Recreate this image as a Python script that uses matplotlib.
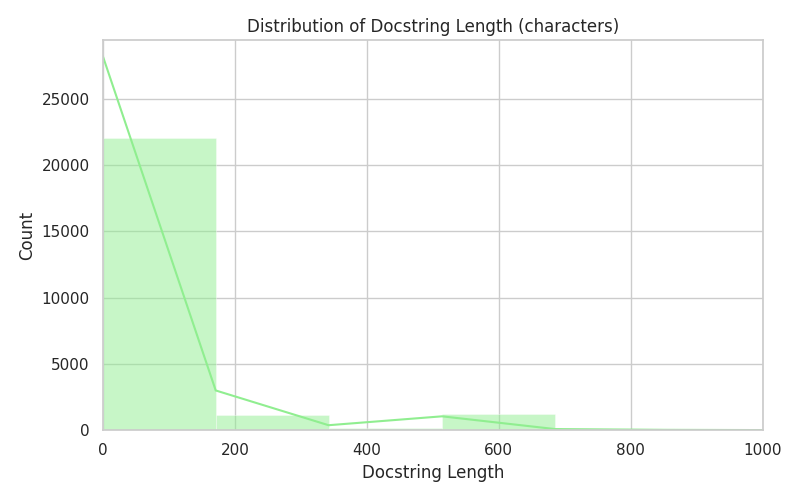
import numpy as np
import matplotlib
matplotlib.use("Agg")
import matplotlib.pyplot as plt
import seaborn as sns

# histogram bins (docstring length, characters)
bin_edges = [0, 171, 342, 514, 685, 856, 1027]
counts = [22050, 1150, 150, 1250, 60, 30]

# density curve, sampled at bin edges
kde_x = [0, 171, 342, 514, 685, 856, 1027]
kde_y = [28200, 3000, 380, 1050, 90, 30, 10]

sns.set_theme(style="whitegrid")

fig, ax = plt.subplots(figsize=(8, 5), dpi=100)
widths = np.diff(bin_edges)
ax.bar(bin_edges[:-1], counts, width=widths, align="edge",
       color="lightgreen", alpha=0.5, edgecolor="white", linewidth=0.5)
ax.plot(kde_x, kde_y, color="lightgreen", linewidth=1.5)

ax.set_xlim(0, 1000)
ax.set_ylim(0, 29400)
ax.set_title("Distribution of Docstring Length (characters)")
ax.set_xlabel("Docstring Length")
ax.set_ylabel("Count")

plt.tight_layout()
plt.savefig("out.png")
